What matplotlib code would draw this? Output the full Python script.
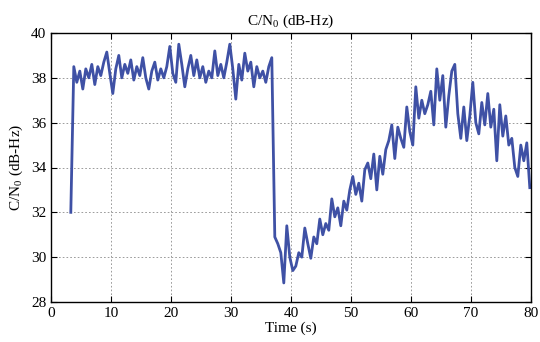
import numpy as np
import matplotlib
matplotlib.use("Agg")
import matplotlib.pyplot as plt

# C/N0 readings, one every 0.5 s starting at t = 3.3 s
t_start = 3.3
t_step = 0.5
cn0 = [
    32.0,
    # steady tracking, ~38 dB-Hz
    38.5, 37.8, 38.3, 37.5, 38.4, 38.0, 38.6, 37.7, 38.5, 38.1,
    38.7, 39.15, 38.2, 37.3, 38.4, 39.0, 38.0, 38.6, 38.2, 38.8,
    37.9, 38.5, 38.1, 38.9, 38.0, 37.5, 38.3, 38.7, 37.9, 38.4,
    38.0, 38.5, 39.4, 38.2, 37.8, 39.5, 38.6, 37.6, 38.4, 39.0,
    38.1, 38.8, 38.0, 38.5, 37.8, 38.3, 38.0, 39.2, 38.1, 38.6,
    38.0, 38.7, 39.5, 38.4, 37.05, 38.6, 37.9, 39.1, 38.3, 38.7,
    37.6, 38.5, 38.0, 38.3, 37.8, 38.5, 38.9,
    # drop and slow recovery
    30.9, 30.6, 30.2, 28.85, 31.4, 30.0, 29.4, 29.6, 30.2, 30.0,
    31.3, 30.6, 29.95, 30.9, 30.6, 31.7, 31.0, 31.5, 31.2, 32.6,
    31.8, 32.2, 31.4, 32.5, 32.1, 33.0, 33.6, 32.8, 33.3, 32.5,
    33.9, 34.2, 33.5, 34.6, 33.0, 34.5, 33.7, 34.8, 35.2, 35.9,
    34.4, 35.8, 35.3, 34.9, 36.7, 35.6, 35.0, 37.6, 36.2, 37.0,
    36.4, 36.8, 37.4, 35.9, 38.4, 37.0, 38.1, 35.8, 37.2, 38.3,
    # slow decline
    38.6, 36.4, 35.3, 36.7, 35.2, 36.3, 37.8, 36.0, 35.5, 36.9,
    35.9, 37.3, 35.8, 36.6, 34.3, 36.8, 35.4, 36.3, 35.0, 35.3,
    34.0, 33.6, 35.0, 34.3, 35.1, 33.1,
]
time = t_start + t_step * np.arange(len(cn0))

x_ticks = [0, 10, 20, 30, 40, 50, 60, 70, 80]
y_ticks = [28, 30, 32, 34, 36, 38, 40]

plt.rcParams["font.family"] = ["Liberation Serif", "DejaVu Serif"]
plt.rcParams["mathtext.fontset"] = "custom"
plt.rcParams["mathtext.rm"] = "Liberation Serif"
plt.rcParams["mathtext.default"] = "regular"

fig = plt.figure(figsize=(5.4, 3.42), dpi=100)
ax = fig.add_axes([51 / 540, 1 - 302 / 342, 480 / 540, 269 / 342])

ax.plot(time, cn0, color="#3f51a5", linewidth=2.0)

ax.set_xlim(0, 80)
ax.set_ylim(28, 40)
ax.set_xticks(x_ticks)
ax.set_yticks(y_ticks)
ax.grid(True, color="0.55", linestyle=(0, (2, 2.5)), linewidth=0.6)
ax.tick_params(direction="in", top=True, right=True, labelsize=11,
               length=4, width=0.8)
for s in ax.spines.values():
    s.set_linewidth(1.0)

ax.set_title("C/N$_0$ (dB-Hz)", fontsize=11, pad=6)
ax.set_xlabel("Time (s)", fontsize=11, labelpad=1)
ax.set_ylabel("C/N$_0$ (dB-Hz)", fontsize=11, labelpad=4)

fig.savefig("out.png", dpi=100)
